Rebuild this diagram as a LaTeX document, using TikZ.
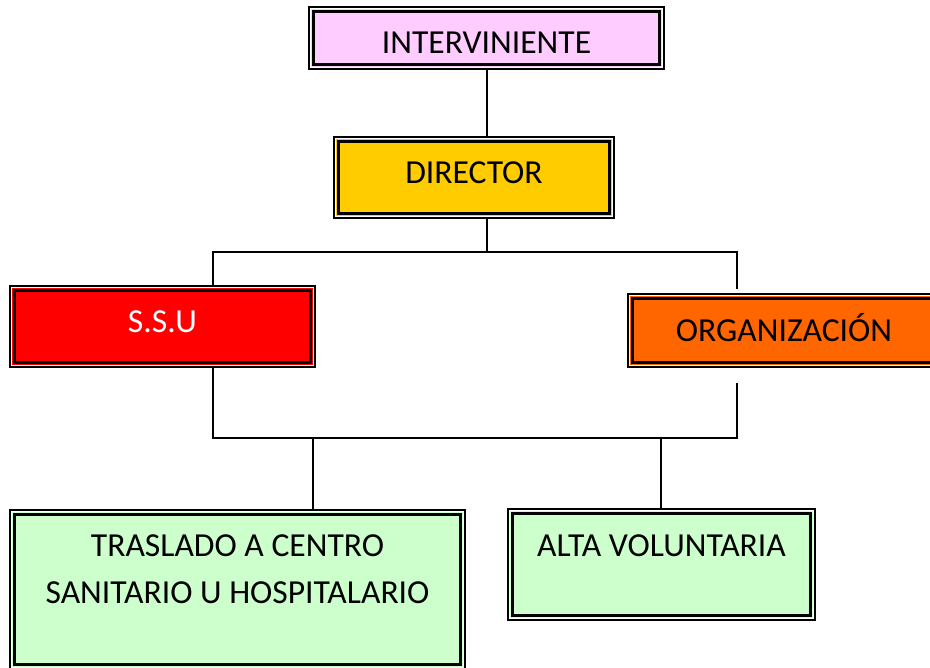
\documentclass[tikz,border=0pt]{standalone}
\usepackage{fontspec}
\setmainfont{Carlito}
\definecolor{cpink}{HTML}{FFCCFF}
\definecolor{cyellow}{HTML}{FFCC00}
\definecolor{cred}{HTML}{FF0000}
\definecolor{corange}{HTML}{FF6600}
\definecolor{cgreen}{HTML}{CCFFCC}
\tikzset{
  boxo/.style={draw=black, line width=1.8pt, rectangle, inner sep=0pt},
  boxin/.style={draw=black, line width=3pt},
  boxwhite/.style={draw=white, line width=1pt},
  lbl/.style={font=\fontsize{33.6}{47}\selectfont, anchor=base, inner sep=0pt},
  conn/.style={draw=black, line width=1.6pt}
}
\newcommand{\innerframe}[1]{%
  \draw[boxwhite] ([shift={(2.6,2.6)}]#1.north west) rectangle ([shift={(-2.6,-2.6)}]#1.south east);
  \draw[boxin] ([shift={(5.5,5.5)}]#1.north west) rectangle ([shift={(-5.5,-5.5)}]#1.south east);
}
\begin{document}
\begin{tikzpicture}[x=1pt, y=-1pt]
\useasboundingbox (0,0) rectangle (930,668);
\clip (0,0) rectangle (930,668);
% boxes
\node[boxo, fill=cpink, minimum width=355pt, minimum height=62pt] (int) at (486.5,38) {};
\innerframe{int}
\node[boxo, fill=cyellow, minimum width=280pt, minimum height=81pt] (dir) at (474,177.5) {};
\innerframe{dir}
\node[boxo, fill=cred, minimum width=305pt, minimum height=81pt] (ssu) at (162.5,326.5) {};
\innerframe{ssu}
\node[boxo, fill=corange, minimum width=312pt, minimum height=73pt] (org) at (784,330.5) {};
\innerframe{org}
\node[boxo, fill=cgreen, minimum width=455pt, minimum height=159pt] (tra) at (237.5,589.5) {};
\innerframe{tra}
\node[boxo, fill=cgreen, minimum width=307pt, minimum height=111pt] (alt) at (661.5,564.5) {};
\innerframe{alt}
% labels
\node[lbl] (tint) at (486.5,54) {INTERVINIENTE};
\node[lbl] (tdir) at (474,184) {DIRECTOR};
\node[lbl, text=white] (tssu) at (162.5,333) {S.S.U};
\node[lbl] (torg) at (784,342) {ORGANIZACIÓN};
\node[lbl] (ttra1) at (237.5,556) {TRASLADO A CENTRO};
\node[lbl] (ttra2) at (237.5,603) {SANITARIO U HOSPITALARIO};
\node[lbl] (talt) at (661.5,556) {ALTA VOLUNTARIA};
% junction coordinates
\coordinate (c1) at (487,252);
\coordinate (bl) at (213,252);
\coordinate (br) at (737,252);
\coordinate (oe) at (737,289);
\coordinate (ll) at (213,438);
\coordinate (lr) at (737,438);
\coordinate (os) at (737,383);
\coordinate (lt) at (313,438);
\coordinate (la) at (661,438);
% connectors
\draw[conn] (int.south -| c1) -- (dir.north -| c1);
\draw[conn] (dir.south -| c1) -- (c1);
\draw[conn] (ssu.north -| bl) -- (bl) -- (br) -- (oe);
\draw[conn] (ssu.south -| ll) -- (ll) -- (lr) -- (os);
\draw[conn] (lt) -- (tra.north -| lt);
\draw[conn] (la) -- (alt.north -| la);
\end{tikzpicture}
\end{document}
